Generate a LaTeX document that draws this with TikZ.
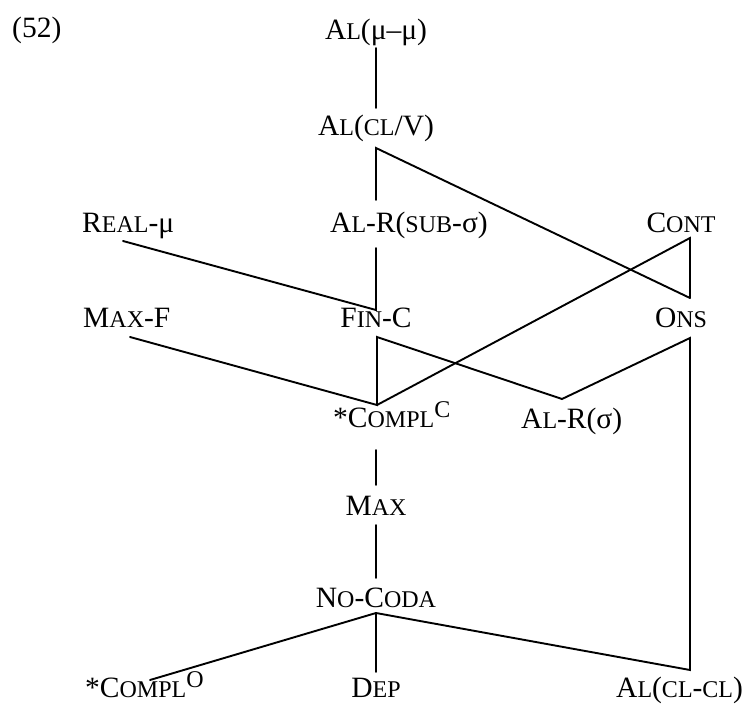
\documentclass[tikz,border=0pt]{standalone}
\usepackage{fontspec}
\setmainfont{Liberation Serif}
\newcommand\smc[1]{{\fontsize{24}{24}\selectfont #1}}
\newcommand\supc[1]{\raisebox{10pt}{\smc{#1}}}
\begin{document}
\begin{tikzpicture}[x=1pt,y=-1pt,
  lab/.style={inner sep=0pt,anchor=base,font=\fontsize{29.5}{29.5}\selectfont},
  labw/.style={lab,anchor=base west},
  conn/.style={line width=1.9pt,line cap=round,line join=miter}]
\useasboundingbox (0,0) rectangle (753,704);
% labels
\node[labw] (num) at (12,37) {(52)};
\node[lab] (almm) at (376,39) {A\smc{L}(μ–μ)};
\node[lab] (alclv) at (376,135) {A\smc{L}(\smc{CL}/V)};
\node[labw] (realmu) at (82,232) {R\smc{EAL}-μ};
\node[labw] (alrsub) at (330,232) {A\smc{L}-R(\smc{SUB}-σ)};
\node[lab] (cont) at (681,232) {C\smc{ONT}};
\node[labw] (maxf) at (83,327) {M\smc{AX}-F};
\node[lab] (finc) at (376,327) {F\smc{IN}-C};
\node[lab] (ons) at (681,327) {O\smc{NS}};
\node[labw] (complc) at (333,427) {*C\smc{OMPL}\supc{C}};
\node[labw] (alrs) at (521,428) {A\smc{L}-R(σ)};
\node[lab] (max) at (376,515) {M\smc{AX}};
\node[lab] (nocoda) at (376,607) {N\smc{O}-C\smc{ODA}};
\node[labw] (complo) at (85,697) {*C\smc{OMPL}\supc{O}};
\node[lab] (dep) at (376,697) {D\smc{EP}};
\node[labw] (alclcl) at (616,697) {A\smc{L}(\smc{CL}-\smc{CL})};
% attach points
\coordinate (almmS) at (376,48);
\coordinate (alclvN) at (376,108);
\coordinate (alclvS) at (376,148);
\coordinate (alrsubN) at (376,200);
\coordinate (alrsubS) at (376,248);
\coordinate (realmuS) at (123,241);
\coordinate (fincN) at (376,310);
\coordinate (fincS) at (377,337);
\coordinate (contS) at (690,238);
\coordinate (onsN) at (690,298);
\coordinate (onsS) at (690,338);
\coordinate (maxfS) at (130,337);
\coordinate (complcN) at (377,405);
\coordinate (complcS) at (376,450);
\coordinate (alrsN) at (562,399);
\coordinate (maxN) at (376,485);
\coordinate (maxS) at (376,525);
\coordinate (nocodaN) at (376,578);
\coordinate (nocodaS) at (376,613);
\coordinate (compoN) at (150,680);
\coordinate (depN) at (376,672);
\coordinate (alclclN) at (690,670);
% connectors
\draw[conn] (almmS) -- (alclvN);
\draw[conn] (alrsubN) -- (alclvS) -- (onsN);
\draw[conn] (realmuS) -- (fincN) -- (alrsubS);
\draw[conn] (onsN) -- (contS) -- (complcN);
\draw[conn] (maxfS) -- (complcN) -- (fincS) -- (alrsN) -- (onsS) -- (alclclN) -- (nocodaS) -- (compoN);
\draw[conn] (nocodaS) -- (depN);
\draw[conn] (complcS) -- (maxN);
\draw[conn] (maxS) -- (nocodaN);
\end{tikzpicture}
\end{document}
